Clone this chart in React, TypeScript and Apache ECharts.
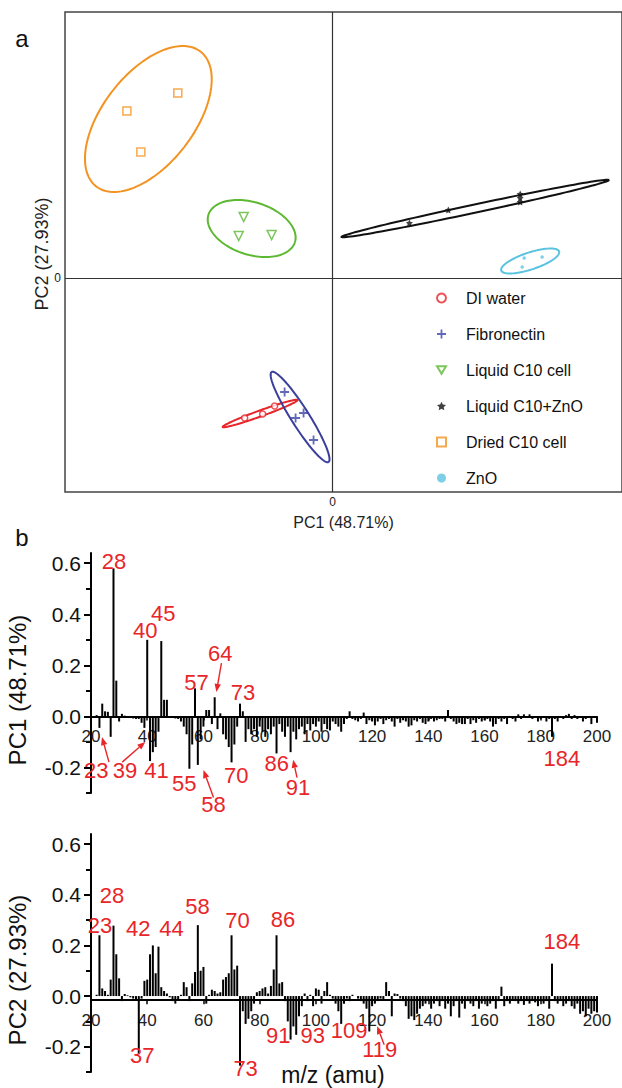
import React, { useEffect, useRef } from "react";
import * as echarts from "echarts";

const FONT = "'Liberation Sans', Arial, Helvetica, sans-serif";
const RED = "#e8262a";

// ---------- Panel a : PCA scores ----------
const seriesNames = ["DI water", "Fibronectin", "Liquid C10 cell", "Liquid C10+ZnO", "Dried C10 cell", "ZnO"];
const diWater = [[-0.88, -1.40], [-0.70, -1.36], [-0.58, -1.28]];
const fibronectin = [[-0.48, -1.14], [-0.37, -1.40], [-0.29, -1.35], [-0.19, -1.62]];
const liquidC10 = [[-0.89, 0.61], [-0.94, 0.42], [-0.61, 0.43]];
const liquidC10ZnO = [[0.77, 0.55], [1.16, 0.68], [1.88, 0.80], [1.88, 0.76], [1.88, 0.84]];
const driedC10 = [[-2.06, 1.67], [-1.55, 1.85], [-1.92, 1.26]];
const znO = [[1.92, 0.20], [2.10, 0.21], [1.90, 0.11]];

// confidence ellipses: centre (cx, cy) and two conjugate semi-axis vectors (u, v), data units
const ellipseParams = [
  [-0.725, -1.355, 0.375, 0.135, -0.010, 0.028],
  [-0.325, -1.39, 0.285, -0.45, 0.076, 0.048],
  [-0.81, 0.495, 0.433, -0.138, 0.080, 0.250],
  [1.43, 0.695, 1.34, 0.285, -0.008, 0.04],
  [-1.845, 1.59, 0.523, 0.674, -0.360, 0.280],
  [1.98, 0.17, 0.29, 0.095, -0.026, 0.081],
];
const ellipseColors = ["#e8262a", "#3a3f9c", "#5db832", "#111111", "#f39322", "#5bc3e0"];

// ---------- Panel b : loadings, m/z 20..200 ----------
const mzFirst = 20;
const pc1Loadings = [
  0.05, 0.0, 0.005, -0.045, 0.05, 0.02, 0.018, -0.08, 0.58, 0.14,
  -0.02, 0.01, 0.003, -0.005, -0.005, -0.008, -0.01, -0.01, -0.025, -0.045,
  0.30, -0.175, -0.14, -0.12, -0.06, 0.295, 0.065, 0.065, -0.005, -0.005,
  -0.008, -0.01, -0.02, -0.04, -0.07, -0.205, -0.11, 0.11, -0.19, -0.09,
  -0.04, 0.025, 0.025, -0.03, 0.075, -0.05, 0.012, -0.07, -0.09, -0.12,
  -0.18, -0.11, -0.04, 0.05, 0.02, -0.1, -0.05, -0.07, -0.05, -0.08,
  -0.04, -0.06, -0.08, -0.05, -0.07, -0.04, -0.145, -0.03, -0.06, -0.08,
  -0.04, -0.14, -0.06, -0.09, -0.05, -0.04, -0.07, -0.03, -0.055, -0.03,
  -0.04, -0.02, -0.06, -0.03, -0.05, -0.055, -0.02, -0.03, -0.04, -0.06,
  -0.03, -0.01, 0.02, -0.01, -0.015, -0.02, -0.01, 0.015, -0.03, -0.015,
  -0.02, -0.035, -0.02, -0.01, -0.03, -0.015, -0.01, -0.02, -0.04, -0.01,
  -0.025, -0.015, -0.02, -0.04, -0.035, -0.015, -0.02, -0.01, -0.025, -0.03,
  -0.02, -0.01, -0.02, -0.015, -0.01, -0.01, -0.02, 0.025, -0.01, -0.02,
  -0.03, -0.025, -0.03, -0.03, -0.01, -0.03, -0.015, -0.025, -0.01, -0.02,
  -0.015, -0.01, -0.02, -0.04, -0.03, -0.01, -0.02, -0.01, -0.03, -0.005,
  -0.01, -0.02, 0.008, -0.01, 0.008, -0.005, 0.008, -0.01, -0.005, -0.02,
  -0.01, -0.005, -0.02, -0.01, -0.08, -0.01, -0.02, -0.005, -0.01, 0.005,
  0.01, -0.01, 0.005, -0.01, -0.005, -0.02, -0.01, -0.005, -0.03, -0.005,
  -0.025,
];
const pc2Loadings = [
  -0.04, 0.0, 0.005, 0.24, 0.03, 0.02, 0.005, 0.065, 0.278, 0.165,
  0.07, -0.02, 0.008, 0.003, -0.005, -0.01, -0.015, -0.227, -0.01, 0.06,
  0.065, 0.165, 0.2, 0.09, 0.195, 0.035, 0.02, 0.01, -0.005, -0.02,
  -0.03, -0.015, 0.005, 0.055, 0.035, -0.02, 0.05, 0.095, 0.28, 0.1,
  0.115, -0.03, 0.005, 0.025, 0.02, 0.01, 0.015, 0.065, 0.075, 0.09,
  0.24, 0.105, 0.12, -0.275, -0.06, -0.11, -0.09, -0.06, -0.03, 0.015,
  0.02, 0.03, 0.035, 0.01, 0.04, 0.105, 0.24, 0.05, 0.055, -0.02,
  -0.1, -0.172, -0.12, -0.153, -0.08, -0.04, 0.01, -0.02, 0.005, -0.04,
  0.03, 0.025, -0.03, 0.02, 0.055, 0.005, -0.01, -0.03, -0.06, -0.11,
  -0.03, -0.01, -0.02, 0.005, 0.0, -0.01, -0.02, -0.03, -0.05, -0.14,
  -0.04, -0.03, -0.02, -0.01, -0.015, 0.055, 0.02, -0.08, 0.01, 0.008,
  -0.01, -0.02, -0.04, -0.09, -0.08, -0.095, -0.07, -0.05, -0.04, -0.03,
  -0.02, -0.05, -0.03, -0.02, -0.04, -0.02, -0.05, -0.03, -0.08, -0.04,
  -0.02, -0.085, -0.03, -0.05, -0.02, -0.03, -0.04, -0.02, -0.05, -0.03,
  -0.02, -0.04, -0.03, -0.02, -0.05, -0.02, 0.037, -0.04, -0.02, -0.03,
  -0.015, -0.02, -0.03, -0.02, -0.035, -0.02, -0.03, -0.02, -0.025, -0.04,
  -0.02, -0.03, -0.02, -0.05, 0.128, -0.02, -0.03, -0.02, -0.04, -0.03,
  -0.02, -0.04, -0.05, -0.03, -0.07, -0.06, -0.08, -0.05, -0.07, -0.06,
  -0.065,
];
const yMin = -0.3;
const yMax = 0.64;
const yTickValues = [-0.2, 0, 0.2, 0.4, 0.6];
const yMinorTickValues = [-0.3, -0.1, 0.1, 0.3, 0.5];
const xTicks = [20, 40, 60, 80, 100, 120, 140, 160, 180, 200];

// peak annotations [text, m/z, loading] (label anchor, data units)
const pc1Labels: [string, number, number][] = [
  ["28", 28.2, 0.605], ["40", 39.3, 0.335], ["45", 45.7, 0.405], ["57", 57.5, 0.131],
  ["64", 66.0, 0.248], ["73", 74.1, 0.092], ["23", 21.9, -0.21], ["39", 32.1, -0.21],
  ["41", 43.3, -0.21], ["55", 53.2, -0.261], ["58", 63.6, -0.345], ["70", 71.7, -0.23],
  ["86", 86.1, -0.186], ["91", 93.6, -0.277], ["184", 187.5, -0.163],
];
const pc1Arrows = [
  [26.4, -0.179, 23.9, -0.081],
  [31.1, -0.179, 39.3, -0.10],
  [66.4, 0.209, 64.6, 0.096],
  [63.6, -0.318, 60.0, -0.21],
  [93.3, -0.24, 91.9, -0.17],
];
const pc2Labels: [string, number, number][] = [
  ["28", 27.5, 0.383], ["23", 23.2, 0.257], ["42", 36.8, 0.245], ["44", 48.6, 0.245],
  ["58", 57.9, 0.336], ["70", 72.1, 0.277], ["86", 88.3, 0.281], ["184", 187.5, 0.19],
  ["37", 38.2, -0.285], ["73", 75.0, -0.34], ["91", 86.6, -0.2], ["93", 98.9, -0.2],
  ["109", 111.8, -0.182], ["119", 122.7, -0.261],
];
const pc2Arrows = [[124.3, -0.24, 121.8, -0.163]];

const starPath =
  "path://M0,-10L2.9,-4L9.5,-3.1L4.7,1.5L5.9,8.1L0,5L-5.9,8.1L-4.7,1.5L-9.5,-3.1L-2.9,-4Z";
const plusPath = "path://M-1.2,-6H1.2V-1.2H6V1.2H1.2V6H-1.2V1.2H-6V-1.2H-1.2Z";
const downTrianglePath = "path://M-5,-4.3L5,-4.3L0,4.3Z";

export default function App() {
  const ref = useRef<HTMLDivElement>(null);
  useEffect(() => {
    if (!ref.current) return;
    const chart = echarts.init(ref.current, null, { renderer: "svg" });

    const specAxisX = (gi: number) => ({
      type: "value",
      gridIndex: gi,
      min: 20,
      max: 200,
      interval: 20,
      position: "bottom",
      axisLine: { onZero: false, lineStyle: { color: "#000", width: 2 } },
      axisTick: { show: true, length: 4, lineStyle: { color: "#000", width: 1.5 }, customValues: xTicks },
      axisLabel: { fontSize: 17, color: "#222", margin: 12, fontFamily: FONT, customValues: xTicks },
      splitLine: { show: false },
    });
    const specAxisY = (gi: number) => ({
      type: "value",
      gridIndex: gi,
      min: yMin,
      max: yMax,
      position: "left",
      axisLine: { show: true, onZero: false, lineStyle: { color: "#000", width: 2 } },
      axisTick: { show: true, length: 7, lineStyle: { color: "#000", width: 2 }, customValues: yTickValues },
      axisLabel: {
        fontSize: 21, color: "#111", margin: 10, fontFamily: FONT, customValues: yTickValues,
        formatter: (v: number) => v.toFixed(1),
      },
      splitLine: { show: false },
    });
    const specAxisYMinor = (gi: number) => ({
      type: "value",
      gridIndex: gi,
      min: yMin,
      max: yMax,
      position: "left",
      axisLine: { show: false, onZero: false },
      axisTick: { show: true, length: 5, lineStyle: { color: "#000", width: 2 }, customValues: yMinorTickValues },
      axisLabel: { show: false },
      splitLine: { show: false },
    });

    const scatterBase = { type: "scatter", xAxisIndex: 0, yAxisIndex: 0, z: 5 };

    chart.setOption({
      animation: false,
      textStyle: { fontFamily: FONT },
      grid: [
        { left: 65, top: 12, width: 558, height: 480, show: true, borderColor: "#444", borderWidth: 1.5, backgroundColor: "transparent" },
        { left: 91, top: 553, width: 506, height: 240 },
        { left: 91, top: 834, width: 506, height: 238 },
      ],
      xAxis: [
        {
          type: "value", gridIndex: 0, min: -2.68, max: 2.9, position: "bottom",
          axisLine: { show: false }, axisTick: { show: false },
          axisLabel: { customValues: [0], fontSize: 12, color: "#222", margin: 4 },
          splitLine: { show: false },
          name: "PC1 (48.71%)", nameLocation: "middle", nameGap: 22,
          nameTextStyle: { fontSize: 16, color: "#222", fontFamily: FONT },
        },
        specAxisX(1),
        specAxisX(2),
      ],
      yAxis: [
        {
          type: "value", gridIndex: 0, min: -2.14, max: 2.66, position: "left",
          axisLine: { show: false }, axisTick: { show: false },
          axisLabel: { customValues: [0], fontSize: 12, color: "#222", margin: 4 },
          splitLine: { show: false },
        },
        specAxisY(1),
        specAxisYMinor(1),
        specAxisY(2),
        specAxisYMinor(2),
      ],
      legend: {
        data: seriesNames,
        orient: "vertical",
        left: 431,
        top: 285,
        itemGap: 20,
        itemWidth: 9,
        itemHeight: 9,
        textStyle: { fontSize: 16, color: "#111", fontFamily: FONT, padding: [0, 0, 0, 15] },
      },
      series: [
        {
          type: "custom",
          xAxisIndex: 0,
          yAxisIndex: 0,
          silent: true,
          clip: false,
          z: 3,
          data: ellipseParams,
          encode: { x: 0, y: 1 },
          renderItem: (params: any, api: any) => {
            const cx = api.value(0), cy = api.value(1);
            const ux = api.value(2), uy = api.value(3), vx = api.value(4), vy = api.value(5);
            const pts: number[][] = [];
            for (let k = 0; k <= 120; k++) {
              const t = (k / 120) * Math.PI * 2;
              pts.push(api.coord([cx + ux * Math.cos(t) + vx * Math.sin(t), cy + uy * Math.cos(t) + vy * Math.sin(t)]));
            }
            return {
              type: "polyline",
              shape: { points: pts },
              style: { fill: null, stroke: ellipseColors[params.dataIndex], lineWidth: 2 },
            };
          },
        },
        {
          ...scatterBase, name: "DI water", data: diWater, symbol: "circle", symbolSize: 6,
          itemStyle: { color: "#fff", borderColor: "#e8262a", borderWidth: 1.5 },
          markLine: {
            silent: true, symbol: "none", label: { show: false },
            lineStyle: { color: "#333", width: 1.2, type: "solid" },
            data: [{ xAxis: 0 }, { yAxis: 0 }],
          },
        },
        { ...scatterBase, name: "Fibronectin", data: fibronectin, symbol: plusPath, symbolSize: 9, itemStyle: { color: "#3a44a6" } },
        {
          ...scatterBase, name: "Liquid C10 cell", data: liquidC10, symbol: downTrianglePath, symbolSize: 9,
          itemStyle: { color: "#fff", borderColor: "#5db832", borderWidth: 1.5 },
        },
        { ...scatterBase, name: "Liquid C10+ZnO", data: liquidC10ZnO, symbol: starPath, symbolSize: 7, itemStyle: { color: "#111" } },
        {
          ...scatterBase, name: "Dried C10 cell", data: driedC10, symbol: "rect", symbolSize: 8,
          itemStyle: { color: "#fff", borderColor: "#f39322", borderWidth: 1.5 },
        },
        { ...scatterBase, name: "ZnO", data: znO, symbol: "circle", symbolSize: 3.5, itemStyle: { color: "#5bc3e0" } },
        {
          type: "bar", xAxisIndex: 1, yAxisIndex: 1, barWidth: 2,
          data: pc1Loadings.map((v, i) => [mzFirst + i, v]),
          itemStyle: { color: "#000" }, silent: true,
        },
        {
          type: "bar", xAxisIndex: 2, yAxisIndex: 3, barWidth: 2,
          data: pc2Loadings.map((v, i) => [mzFirst + i, v]),
          itemStyle: { color: "#000" }, silent: true,
        },
      ],
    });

    const f1 = { xAxisIndex: 1, yAxisIndex: 1 };
    const f2 = { xAxisIndex: 2, yAxisIndex: 3 };
    const px = (f: any, x: number, y: number) => chart.convertToPixel(f, [x, y]) as number[];

    // move the m/z axes onto the zero loading line (via the axes' own scale)
    const off1 = px(f1, 20, 0)[1] - px(f1, 20, yMin)[1];
    const off2 = px(f2, 20, 0)[1] - px(f2, 20, yMin)[1];

    // annotations placed through the axes' own scales
    const graphics: any[] = [];
    const addText = (text: string, x: number, y: number, size: number, color: string, rotation = 0) => {
      graphics.push({
        type: "text", x, y, rotation, silent: true, z: 100,
        style: {
          text, x: 0, y: 0, fill: color, fontSize: size, fontFamily: FONT,
          align: "center", verticalAlign: "middle", textAlign: "center", textVerticalAlign: "middle",
        },
      });
    };
    const addArrow = (p0: number[], p1: number[]) => {
      const dx = p1[0] - p0[0], dy = p1[1] - p0[1];
      const len = Math.hypot(dx, dy) || 1;
      const ux = dx / len, uy = dy / len;
      const L = 8, W = 3.2;
      const bx = p1[0] - ux * L, by = p1[1] - uy * L;
      graphics.push({
        type: "line", silent: true, z: 100,
        shape: { x1: p0[0], y1: p0[1], x2: bx, y2: by },
        style: { stroke: RED, lineWidth: 1.4 },
      });
      graphics.push({
        type: "polygon", silent: true, z: 100,
        shape: { points: [[p1[0], p1[1]], [bx - uy * W, by + ux * W], [bx + uy * W, by - ux * W]] },
        style: { fill: RED },
      });
    };
    pc1Labels.forEach(([t, x, y]) => {
      const p = px(f1, x, y);
      addText(t, p[0], p[1], 22, RED);
    });
    pc1Arrows.forEach((a) => addArrow(px(f1, a[0], a[1]), px(f1, a[2], a[3])));
    pc2Labels.forEach(([t, x, y]) => {
      const p = px(f2, x, y);
      addText(t, p[0], p[1], 22, RED);
    });
    pc2Arrows.forEach((a) => addArrow(px(f2, a[0], a[1]), px(f2, a[2], a[3])));
    addText("a", 22, 38, 24, "#111");
    addText("b", 22, 537, 24, "#111");
    addText("PC2 (27.93%)", 42, 254, 18, "#222", Math.PI / 2);
    addText("PC1 (48.71%)", 17, 690, 24, "#111", Math.PI / 2);
    addText("PC2 (27.93%)", 17, 970, 24, "#111", Math.PI / 2);
    addText("m/z (amu)", 333, 1075, 23, "#111");

    chart.setOption({
      xAxis: [{}, { offset: off1 }, { offset: off2 }],
      graphic: { elements: graphics },
    });

    return () => chart.dispose();
  }, []);

  return (
    <div
      ref={ref}
      style={{ position: "fixed", left: 0, top: 0, width: 622, height: 1088, background: "#fff" }}
    />
  );
}
